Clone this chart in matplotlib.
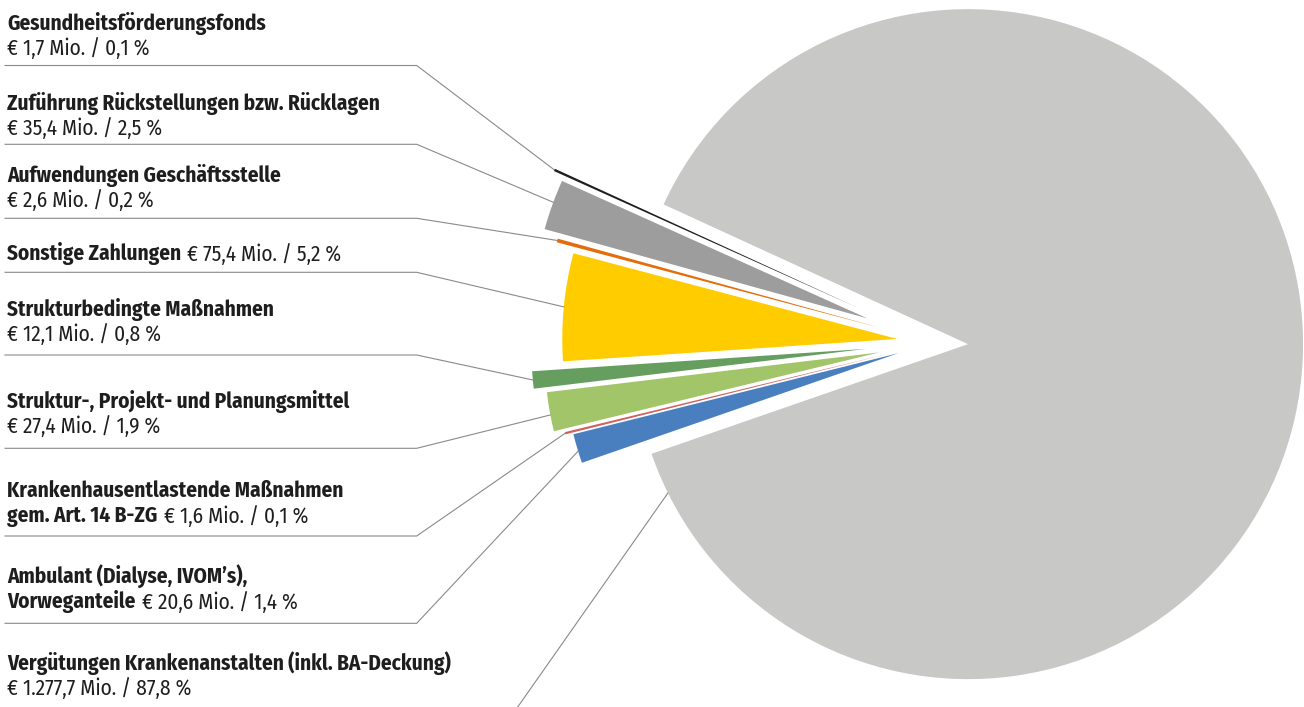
import matplotlib
matplotlib.use("Agg")
import matplotlib.pyplot as plt
from matplotlib import font_manager
import numpy as np

W, H = 1304, 707

# ---------------- data ----------------
categories = [
    "Gesundheitsförderungsfonds",
    "Zuführung Rückstellungen bzw. Rücklagen",
    "Aufwendungen Geschäftsstelle",
    "Sonstige Zahlungen",
    "Strukturbedingte Maßnahmen",
    "Struktur-, Projekt- und Planungsmittel",
    "Krankenhausentlastende Maßnahmen\ngem. Art. 14 B-ZG",
    "Ambulant (Dialyse, IVOM’s),\nVorweganteile",
    "Vergütungen Krankenanstalten (inkl. BA-Deckung)",
]
amounts_mio = [1.7, 35.4, 2.6, 75.4, 12.1, 27.4, 1.6, 20.6, 1277.7]
shares_pct = [0.1, 2.5, 0.2, 5.2, 0.8, 1.9, 0.1, 1.4, 87.8]
value_inline = [False, False, False, True, False, False, True, True, False]

# ---------------- style ----------------
colors = ["#1f1f1f", "#9d9d9d", "#e46c0a", "#ffcc00", "#659e5e",
          "#a3c56a", "#d0625d", "#4a7fbf", "#c8c8c6"]
explode_px = [82.3, 70.9, 55.5, 37.1, 68.1, 55.6, 45.0, 37.3, 33.9]
leader_frac = [0.5, 0.45, 0.5, 0.5, 0.5, 0.58, 0.5, 0.59, 0.023]
underline_y = [65.5, 144.3, 218.3, 272.3, 355.0, 448.3, 536.0, 623.3, None]
last_baseline = [55, 135, 207, 260, 341, 433, 522, 608, 695]
line_pitch = 25
text_x = 7
underline_x0, underline_x1 = 5, 416.7
pie_center = (934.2, H - 342.5)
pie_radius = 335
start_angle = 155.35

avail = {f.name for f in font_manager.fontManager.ttflist}
fams = [f for f in ["Fira Sans Condensed", "Roboto Condensed", "Lato", "DejaVu Sans"] if f in avail]
plt.rcParams["font.family"] = fams
FS = 15.3
TXT = "#1e1e1e"
LEAD = "#8a8a8a"


def fmt_de(v):
    s = f"{v:,.1f}"
    return s.replace(",", "X").replace(".", ",").replace("X", ".")


fig = plt.figure(figsize=(W / 100, H / 100), dpi=100)
ax = fig.add_axes([0, 0, 1, 1])

wedges, _ = ax.pie(amounts_mio, colors=colors, startangle=start_angle,
                   counterclock=True, explode=explode_px, radius=pie_radius,
                   center=pie_center, wedgeprops=dict(linewidth=0))

ax.set_xlim(0, W)
ax.set_ylim(0, H)
ax.set_aspect("auto")
ax.axis("off")

for i, w in enumerate(wedges):
    a = np.radians(w.theta1 + leader_frac[i] * (w.theta2 - w.theta1))
    px = w.center[0] + w.r * np.cos(a)
    py = w.center[1] + w.r * np.sin(a)
    uy = underline_y[i]
    if uy is not None:
        ax.plot([underline_x0, underline_x1, px], [H - uy, H - uy, py],
                color=LEAD, lw=0.8, solid_joinstyle="miter")
    else:
        ax.plot([517.7, px], [0, py], color=LEAD, lw=0.8)

    value = f"€ {fmt_de(amounts_mio[i])} Mio. / {fmt_de(shares_pct[i])} %"
    lines = categories[i].split("\n")
    base = last_baseline[i]
    if value_inline[i]:
        n = len(lines)
        for k, ln in enumerate(lines):
            t = ax.text(text_x, H - (base - (n - 1 - k) * line_pitch), ln,
                        fontsize=FS, fontweight="bold", color=TXT, va="baseline")
        ax.annotate(value, xy=(1, 0), xycoords=t, xytext=(4.5, 0),
                    textcoords="offset points", fontsize=FS, color=TXT,
                    va="bottom", ha="left")
    else:
        n = len(lines) + 1
        for k, ln in enumerate(lines):
            ax.text(text_x, H - (base - (n - 1 - k) * line_pitch), ln,
                    fontsize=FS, fontweight="bold", color=TXT, va="baseline")
        ax.text(text_x, H - base, value, fontsize=FS, color=TXT, va="baseline")

fig.savefig("out.png", dpi=100)
